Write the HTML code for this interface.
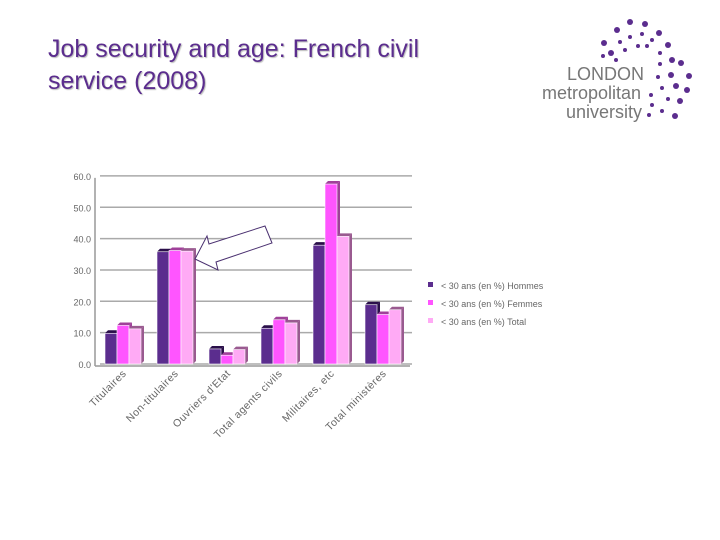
<!DOCTYPE html>
<html><head><meta charset="utf-8"><style>
body{margin:0;width:720px;height:540px;background:#fff;overflow:hidden;font-family:"Liberation Sans",sans-serif}
#title{position:absolute;left:48px;top:33px;font-size:25px;line-height:32px;color:#5b2d8e;text-shadow:1px 1px 1px #bbb}
</style></head><body>
<div id="title">Job security and age: French civil<br>service (2008)</div>
<svg width="720" height="540" style="position:absolute;left:0;top:0" id="svg">
<g>
<text x="567" y="80" font-size="18" fill="#777" font-family="Liberation Sans, sans-serif">LONDON</text>
<text x="542" y="99" font-size="18" fill="#777" font-family="Liberation Sans, sans-serif">metropolitan</text>
<text x="566" y="118" font-size="18" fill="#777" font-family="Liberation Sans, sans-serif">university</text>
<g fill="#5b2d8e" id="dots"></g>
</g>
<g id="chart"></g>
<polygon points="195,259 207,236 209,244 265,226 272,243 216,262 218,270" fill="#fff" stroke="#4a3070" stroke-width="1"/>
</svg>
<script>
const categories=["Titulaires","Non-titulaires","Ouvriers d'Etat","Total agents civils","Militaires, etc","Total ministères"];
const hommes=[9.8,35.8,4.8,11.4,37.9,18.9];
const femmes=[12.3,36.2,2.8,14.1,57.4,15.8];
const total=[11.2,36.0,4.6,13.1,40.7,17.3];
const yTicks=[0,10,20,30,40,50,60];
const seriesNames=["< 30 ans (en %) Hommes","< 30 ans (en %) Femmes","< 30 ans (en %) Total"];
const NS="http://www.w3.org/2000/svg";
const svg=document.getElementById('chart');
function el(t,a,p){const e=document.createElementNS(NS,t);for(const k in a)e.setAttribute(k,a[k]);(p||svg).appendChild(e);return e;}
const y0=364,yScale=31.35/10;
function Y(v){return y0-v*yScale;}
function X(i){return 105+i*52;}
const dots=document.getElementById('dots');
[[630,22,3],[645,24,3],[617,30,3],[659,33,3],[604,43,3],[642,34,2],[630,37,2],[652,40,2],[620,42,2],[668,45,3],[611,53,3],[638,46,2],[647,46,2],[660,53,2],[625,50,2],[672,60,3],[660,64,2],[681,63,3],[671,75,3],[689,76,3],[658,77,2],[676,86,3],[687,90,3],[662,88,2],[651,95,2],[668,99,2],[680,101,3],[652,105,2],[662,111,2],[649,115,2],[675,116,3],[616,60,2],[603,56,2]].forEach(d=>{el('circle',{cx:d[0],cy:d[1],r:d[2]},dots);});
yTicks.forEach(t=>{
 const g=el('line',{x1:100,y1:Y(t),x2:412,y2:Y(t),stroke:'#aaa','stroke-width':1.5});
 
 
 const tx=el('text',{x:91,y:Y(t)+4,'font-size':9,'text-anchor':'end',fill:'#666'});
 tx.textContent=t.toFixed(1);
 
 
});
el('line',{x1:95,y1:Y(60)+2,x2:95,y2:y0+2,stroke:'#999','stroke-width':1.5});
el('line',{x1:95,y1:y0+2,x2:410,y2:y0+2,stroke:'#999','stroke-width':1.5});
const colors=[["#5b2d8e","#2a0f4a"],["#ff55ff","#a0409a"],["#ffaaf5","#9a5a90"]];
const series=[hommes,femmes,total];
const bw=12,d=3;
categories.forEach((c,i)=>{
 series.forEach((s,k)=>{
  const x=X(i)+k*bw,y=Y(s[i]);
  const side=el('polygon',{points:`${x+bw},${y} ${x+bw+d},${y-d} ${x+bw+d},${y0-d} ${x+bw},${y0}`,fill:colors[k][1]});
  
  
  const top=el('polygon',{points:`${x},${y} ${x+d},${y-d} ${x+bw+d},${y-d} ${x+bw},${y}`,fill:colors[k][1]});
  
  
  const r=el('rect',{x:x,y:y,width:bw,height:y0-y,fill:colors[k][0],stroke:'#fff','stroke-width':0.6});
  
  
 });
 const lx=X(i)+22,ly=374;
 const t=el('text',{x:lx,y:ly,'font-size':10.5,'letter-spacing':0.5,'text-anchor':'end',fill:'#666',transform:`rotate(-45 ${lx} ${ly})`});
 t.textContent=c;
 
 
});
seriesNames.forEach((n,k)=>{
 const y=286+k*18;
 const r=el('rect',{x:428,y:y-4,width:5,height:5,fill:colors[k][0]});
 
 
 const t=el('text',{x:441,y:y+3,'font-size':9,fill:'#666'});
 t.textContent=n;
 
 
});
</script>
</body></html>
